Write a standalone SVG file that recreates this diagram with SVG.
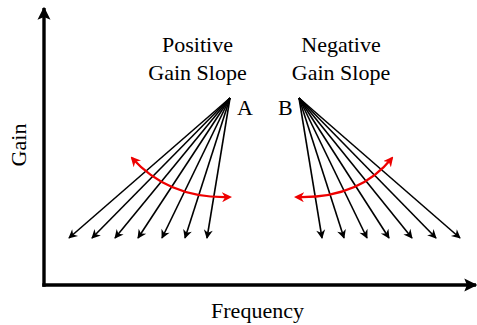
<svg xmlns="http://www.w3.org/2000/svg" width="477" height="325" viewBox="0 0 477 325">
<defs>
<style>
.t{font-family:"Liberation Serif","Times New Roman",serif;font-size:22px;fill:#000}
.ax{stroke:#000;stroke-width:3.4;fill:none}
.ln{stroke:#000;stroke-width:1.6;fill:none;marker-end:url(#ah)}
.rd{stroke:#e00;stroke-width:2.2;fill:none;marker-start:url(#rh);marker-end:url(#rh)}
</style>
<marker id="ah" viewBox="0 0 10 10" refX="9" refY="5" markerWidth="10" markerHeight="9" markerUnits="userSpaceOnUse" orient="auto" overflow="visible">
<path d="M0,0 L10,5 L0,10 L3,5 Z" fill="#000"/>
</marker>
<marker id="axh" viewBox="0 0 10 10" refX="9" refY="5" markerWidth="13" markerHeight="14" markerUnits="userSpaceOnUse" orient="auto">
<path d="M0,0 L10,5 L0,10 L2,5 Z" fill="#000"/>
</marker>
<marker id="rh" viewBox="0 0 10 10" refX="8" refY="5" markerWidth="10" markerHeight="10" markerUnits="userSpaceOnUse" orient="auto-start-reverse">
<path d="M0,0 L10,5 L0,10 L3,5 Z" fill="#e00"/>
</marker>
</defs>
<g id="axes">
<path class="ax" d="M44,286.7 L44,8" marker-end="url(#axh)"/>
<path class="ax" d="M42.3,285 L476,285" marker-end="url(#axh)"/>
</g>
<g id="labels">
<text class="t" x="197.5" y="52" text-anchor="middle">Positive</text>
<text class="t" x="197.5" y="80" text-anchor="middle">Gain Slope</text>
<text class="t" x="341" y="52" text-anchor="middle">Negative</text>
<text class="t" x="341" y="80" text-anchor="middle">Gain Slope</text>
<text class="t" x="237" y="115">A</text>
<text class="t" x="278" y="115">B</text>
<text class="t" transform="translate(26,145) rotate(-90)" text-anchor="middle">Gain</text>
<text class="t" x="257.5" y="318" text-anchor="middle">Frequency</text>
</g>
<g id="connectors">
<path class="ln" d="M230,98 L69,238"/>
<path class="ln" d="M230,98 L92,238"/>
<path class="ln" d="M230,98 L115,238"/>
<path class="ln" d="M230,98 L138,238"/>
<path class="ln" d="M230,98 L162,238"/>
<path class="ln" d="M230,98 L185,238"/>
<path class="ln" d="M230,98 L207,238"/>
<path class="ln" d="M299,98 L322,238"/>
<path class="ln" d="M299,98 L344,238"/>
<path class="ln" d="M299,98 L367,238"/>
<path class="ln" d="M299,98 L389,238"/>
<path class="ln" d="M299,98 L412,238"/>
<path class="ln" d="M299,98 L436,238"/>
<path class="ln" d="M299,98 L460,238"/>
<path class="rd" d="M132,158 Q169,199 230,197"/>
<path class="rd" d="M296,197 Q359,199 392,158"/>
</g>
</svg>
